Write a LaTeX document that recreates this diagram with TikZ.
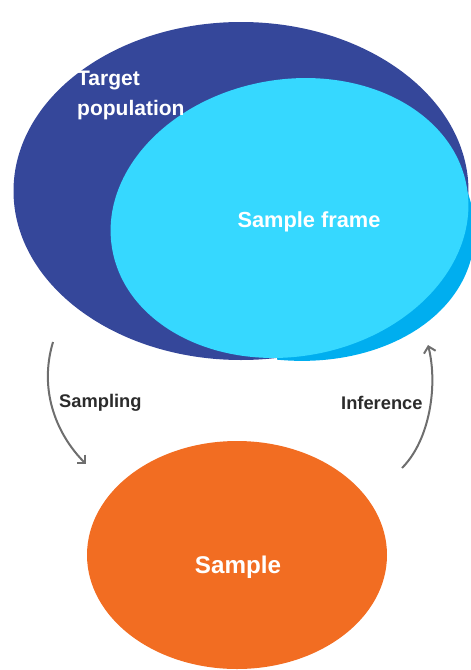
\documentclass[tikz,border=0pt]{standalone}
\usepackage{fontspec}
\setmainfont{Liberation Sans}
\usetikzlibrary{shapes.geometric,arrows.meta}
\definecolor{darkblue}{HTML}{35479A}
\definecolor{lightcyan}{HTML}{36D8FF}
\definecolor{midblue}{HTML}{00AEEF}
\definecolor{orangefill}{HTML}{F26D22}
\definecolor{arrowgray}{HTML}{6E6E6E}
\definecolor{labelgray}{HTML}{2B2B2B}
\tikzset{
  blob/.style={ellipse, draw=none, inner sep=0pt, outer sep=0pt},
  whitetext/.style={text=white, inner sep=0pt},
  flowlabel/.style={text=labelgray, font=\fontsize{18.3}{20}\selectfont\bfseries, inner sep=0pt, anchor=base west},
  flowarrow/.style={draw=arrowgray, line width=2pt, -{Straight Barb[angle=90:8.5pt]}}
}
\begin{document}
\begin{tikzpicture}[x=1pt,y=-1pt]
\useasboundingbox (0,0) rectangle (471,670);
\clip (0,0) rectangle (471,670);
% target population
\node[blob, fill=darkblue, minimum width=455pt, minimum height=338pt] (target) at (241,191) {};
% sample frame shadow
\begin{scope}
\clip (277,170) rectangle (471,400);
\node[blob, fill=midblue, minimum width=390pt, minimum height=286pt, rotate=-10] (frameshadow) at (281,216) {};
\end{scope}
% sample frame
\node[blob, fill=lightcyan, minimum width=360pt, minimum height=277pt, rotate=10] (frame) at (289.5,218) {};
% sample
\node[blob, fill=orangefill, minimum width=300pt, minimum height=228pt] (sample) at (237,555) {};
% texts
\node[whitetext, font=\fontsize{21}{24}\selectfont\bfseries, anchor=base west] (tp1) at (77,85) {Target};
\node[whitetext, font=\fontsize{21}{24}\selectfont\bfseries, anchor=base west] (tp2) at (77,115) {population};
\node[whitetext, font=\fontsize{21.8}{24}\selectfont\bfseries, anchor=base] (sftext) at (309,227) {Sample frame};
\node[whitetext, font=\fontsize{24.2}{26}\selectfont\bfseries, anchor=base] (stext) at (238,573) {Sample};
\node[flowlabel] (samplinglabel) at (59,407) {Sampling};
\node[flowlabel] (inferencelabel) at (341,409) {Inference};
% arrows
\coordinate (sstart) at (53,342);
\coordinate (send) at (86,464);
\coordinate (istart) at (402,468);
\coordinate (iend) at (428,345);
\draw[flowarrow] (sstart) .. controls (38,392) and (58,436) .. (send);
\draw[flowarrow] (istart) .. controls (430,440) and (438,385) .. (iend);
\end{tikzpicture}
\end{document}
